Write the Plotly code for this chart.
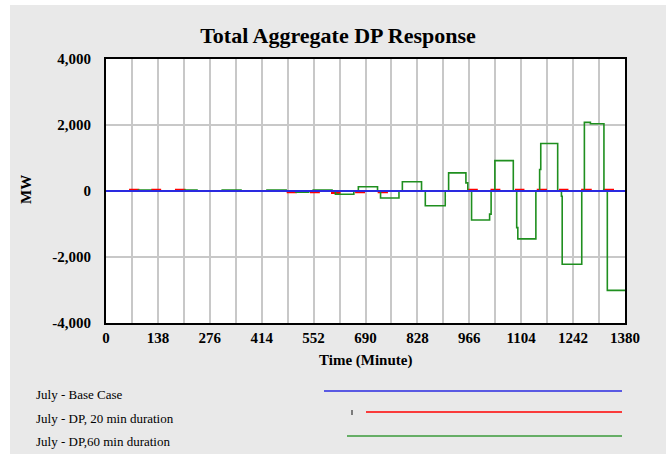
import plotly.graph_objects as go

# ---------------- data ----------------
x_tick_vals = [0, 138, 276, 414, 552, 690, 828, 966, 1104, 1242, 1380]
x_tick_text = ["0", "138", "276", "414", "552", "690", "828", "966", "1104", "1242", "1380"]
y_tick_vals = [-4000, -2000, 0, 2000, 4000]
y_tick_text = ["-4,000", "-2,000", "0", "2,000", "4,000"]

base_t = [0, 1380]
base_v = [0, 0]

red_t = [0, 64, 86, 123, 144, 186, 209, 483, 505, 545, 566, 601, 621, 665, 686, 725, 747,
         964, 986, 1025, 1046, 1090, 1110, 1148, 1170, 1207, 1227, 1266, 1289, 1324, 1348, 1380]
red_v = [0, 40, 0, 40, 0, 40, 0, -40, 0, -40, 0, -60, 0, -40, 0, -40, 0,
         40, 0, 40, 0, 40, 0, 40, 0, 40, 0, 40, 0, 40, 0, 0]

green_t = [0, 86, 120, 209, 242, 309, 359, 428, 479, 505, 539, 551, 601, 610, 659, 671, 722,
           730, 779, 788, 839, 849, 902, 911, 957, 962, 972, 1020, 1024, 1034, 1083,
           1092, 1095, 1143, 1153, 1156, 1201, 1211, 1213, 1265, 1272, 1288, 1324, 1333, 1380]
green_v = [0, 30, 0, 30, 0, 30, 0, 30, 0, -40, 0, 30, 0, -100, 0, 130, 0,
           -210, 0, 280, 0, -445, 0, 550, 245, 0, -880, -700, 0, 920, 0,
           -1110, -1450, 0, 650, 1440, 0, -160, -2220, 0, 2080, 2040, 0, -3010, -3010]

legend_names = ["July - Base Case", "July - DP, 20 min duration", "July - DP,60 min duration"]
series_colors = ["#2a2ae0", "#ff0000", "#1f8f1f"]

# ---------------- figure ----------------
W, H = 666, 454
L, R, T, B = 106, 625, 59, 323
pw, ph = R - L, B - T

def px(xp):
    return (xp - L) / pw

def py(yp):
    return (B - yp) / ph

serif = "Liberation Serif"

fig = go.Figure()
fig.add_trace(go.Scatter(x=red_t, y=red_v, mode="lines", line=dict(color=series_colors[1], width=2, shape="hv"),
                         name=legend_names[1], showlegend=False))
fig.add_trace(go.Scatter(x=green_t, y=green_v, mode="lines", line=dict(color=series_colors[2], width=1.6, shape="hv"),
                         name=legend_names[2], showlegend=False))
fig.add_trace(go.Scatter(x=base_t, y=base_v, mode="lines", line=dict(color=series_colors[0], width=2),
                         name=legend_names[0], showlegend=False))

shapes = [
    dict(type="rect", xref="paper", yref="paper", x0=px(10), x1=px(670), y0=py(458), y1=py(5),
         fillcolor="#e9e9e9", line=dict(width=0), layer="below"),
    dict(type="rect", xref="paper", yref="paper", x0=0, x1=1, y0=0, y1=1,
         fillcolor="white", line=dict(width=0), layer="below"),
]
annotations = []
leg_text_y = [394, 418, 441]
leg_line_y = [391, 412, 436]
leg_line_x0 = [324, 366, 347]
for i in range(3):
    annotations.append(dict(text=legend_names[i], xref="paper", yref="paper", x=px(34), y=py(leg_text_y[i]),
                            xanchor="left", yanchor="middle", showarrow=False,
                            font=dict(family=serif, size=13, color="black")))
    shapes.append(dict(type="line", xref="paper", yref="paper", x0=px(leg_line_x0[i]), x1=px(622),
                       y0=py(leg_line_y[i]), y1=py(leg_line_y[i]),
                       line=dict(color=series_colors[i] if i != 2 else "#3a9a3a", width=1.6)))
shapes.append(dict(type="line", xref="paper", yref="paper", x0=px(352), x1=px(352),
                   y0=py(410), y1=py(415), line=dict(color="#333333", width=1.2)))

annotations.append(dict(text="MW", xref="paper", yref="paper", x=px(26), y=py(190), textangle=-90,
                        xanchor="center", yanchor="middle", showarrow=False,
                        font=dict(family=serif, size=15, color="black", weight="bold")))
annotations.append(dict(text="Time (Minute)", xref="paper", yref="paper", x=px(365), y=py(360),
                        xanchor="center", yanchor="middle", showarrow=False,
                        font=dict(family=serif, size=15, color="black", weight="bold")))

fig.update_layout(
    width=W, height=H,
    margin=dict(l=L, r=W - R, t=T, b=H - B, pad=0),
    paper_bgcolor="white", plot_bgcolor="white",
    title=dict(text="Total Aggregate DP Response", x=338 / W, xanchor="center", y=1 - 35 / H, yanchor="middle",
               font=dict(family=serif, size=22, color="black", weight="bold")),
    shapes=shapes, annotations=annotations, showlegend=False,
)
fig.update_xaxes(range=[0, 1380], tickvals=x_tick_vals, ticktext=x_tick_text, showgrid=True,
                 gridcolor="#c8c8c8", gridwidth=1.5,
                 minor=dict(dtick=69, tick0=0, showgrid=True, gridcolor="#c8c8c8", gridwidth=1.5),
                 showline=True, linecolor="black", linewidth=2, mirror=True, ticks="", zeroline=False,
                 ticklabelstandoff=0,
                 tickfont=dict(family=serif, size=15, color="black", weight="bold"))
fig.update_yaxes(range=[-4000, 4000], tickvals=y_tick_vals, ticktext=y_tick_text, showgrid=True,
                 gridcolor="#c8c8c8", gridwidth=1.5,
                 showline=True, linecolor="black", linewidth=2, mirror=True, ticks="", zeroline=False,
                 ticklabelstandoff=10,
                 tickfont=dict(family=serif, size=15, color="black", weight="bold"))

fig.write_html("out.html")
